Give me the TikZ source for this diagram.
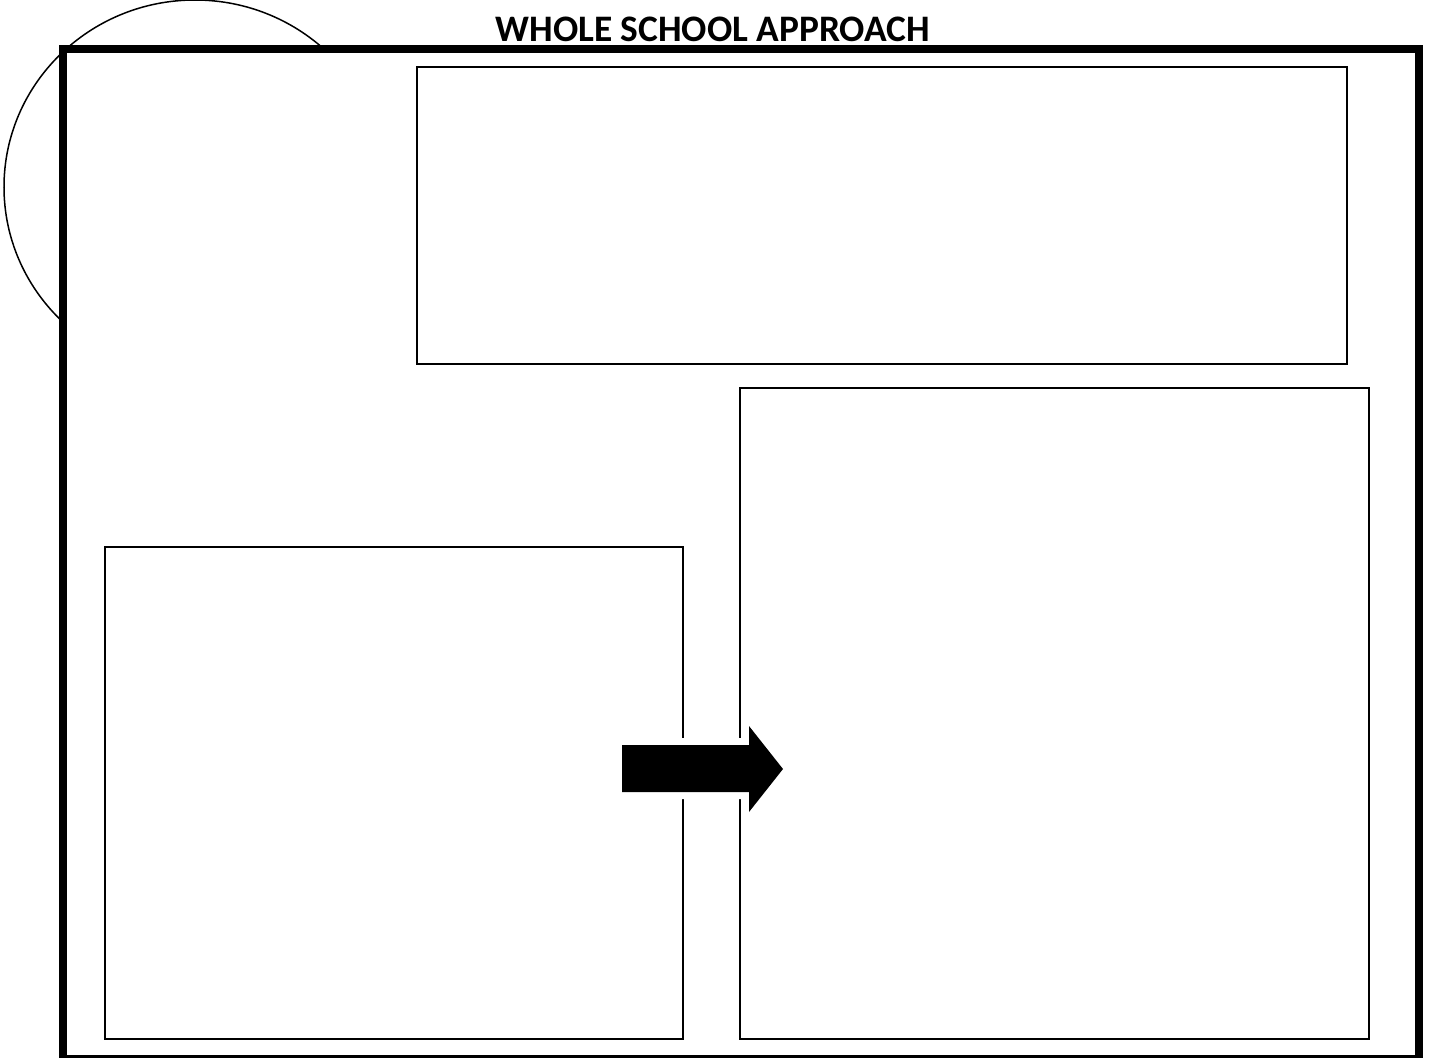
\documentclass[tikz,border=0pt]{standalone}
\usepackage{fontspec}
\newfontfamily\headfont{Carlito}
\usetikzlibrary{positioning}
\tikzset{
	frame/.style={draw, line width=4pt, fill=white},
	panel/.style={draw, line width=1pt, anchor=north west, inner sep=0pt, outer sep=0pt},
	blockarrow/.style={fill=black, preaction={draw=white, line width=7pt}},
	headline/.style={font=\headfont\bfseries\fontsize{18.7pt}{22pt}\selectfont}
}
\begin{document}
\begin{tikzpicture}[x=0.5pt, y=-0.5pt]
	\useasboundingbox (0,0) rectangle (1437,1057);
	
	%% -- Title and the circle behind the frame ------------------------
	\node[headline] (title) at (713,29) {WHOLE SCHOOL APPROACH};
	\draw[line width=0.75pt] (195,187) ellipse [x radius=191, y radius=187];
	
	%% -- Outer frame --------------------------------------------------
	\draw[frame] (63,49) rectangle (1419,1059);
	
	%% -- Panels -------------------------------------------------------
	\node[panel, minimum width=465pt, minimum height=148.5pt] (toppanel) at (417,67) {};
	\node[panel, minimum width=314.5pt, minimum height=325.5pt] (rightpanel) at (740,388) {};
	\node[panel, minimum width=289pt, minimum height=246pt] (leftpanel) at (105,547) {};
	
	%% -- Block arrow from left panel to right panel -------------------
	\path[blockarrow] (622,745) -- (749,745) -- (749,726) -- (783,769)
		-- (749,812) -- (749,792) -- (622,792) -- cycle;
\end{tikzpicture}
\end{document}
